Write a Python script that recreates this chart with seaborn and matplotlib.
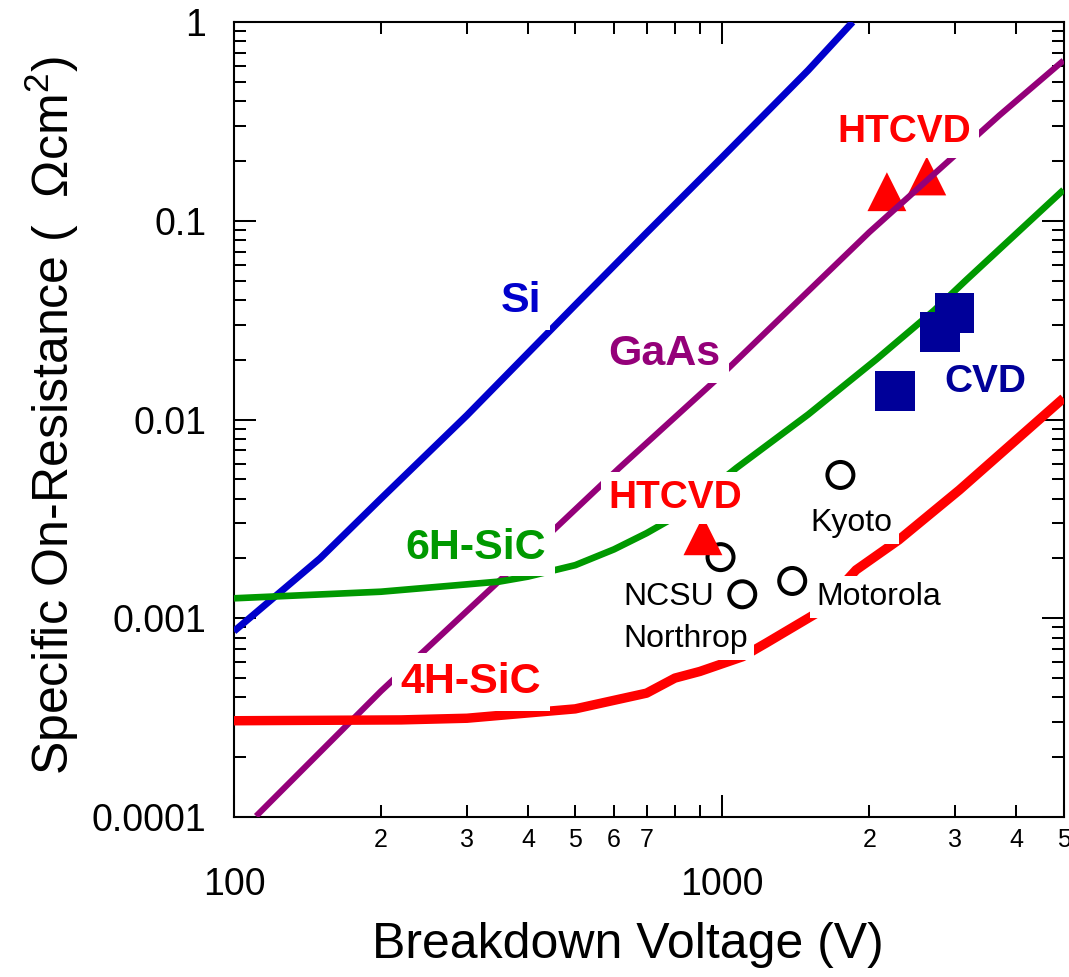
import numpy as np
import pandas as pd
import matplotlib
matplotlib.use('Agg')
import matplotlib.pyplot as plt
import matplotlib.ticker as mticker
import seaborn as sns

# ---------------- data ----------------
si_v = [100, 150, 200, 300, 500, 700, 1000, 1500, 1850]
si_r = [0.00086, 0.0020, 0.0040, 0.0105, 0.0377, 0.087, 0.209, 0.572, 1.0]

gaas_v = [111, 200, 400, 615, 1000, 2000, 3700, 5000]
gaas_r = [1.01e-4, 4.3e-4, 2.1e-3, 5.7e-3, 1.69e-2, 8.75e-2, 0.34, 0.64]

sic6h_v = [100, 200, 350, 400, 500, 600, 700, 800, 1070, 1500, 2070, 2720,
           3160, 5000]
sic6h_r = [0.00126, 0.00136, 0.00153, 0.00162, 0.00185, 0.00222, 0.00268,
           0.00323, 0.00571, 0.0106, 0.0201, 0.0355, 0.0503, 0.143]

sic4h_v = [100, 220, 300, 500, 700, 800, 900, 1100, 1230, 1560, 1880, 2300,
           3060, 5000]
sic4h_r = [0.000305, 0.000308, 0.000314, 0.00035, 0.00042, 0.0005, 0.00054,
           0.00064, 0.00075, 0.00106, 0.00175, 0.00248, 0.00442, 0.0128]

htcvd_v = [913, 2174, 2624]
htcvd_r = [0.0026, 0.140, 0.168]

cvd_v = [2261, 2795, 2988]
cvd_r = [0.0139, 0.0276, 0.0344]

dev_names = ['NCSU', 'Northrop', 'Motorola', 'Kyoto']
dev_v = [992, 1099, 1391, 1746]
dev_r = [0.00203, 0.00132, 0.00154, 0.00526]

y_major = [1e-4, 1e-3, 1e-2, 1e-1, 1]
y_major_labels = ['0.0001', '0.001', '0.01', '0.1', '1']
x_major = [100, 1000]
x_major_labels = ['100', '1000']
x_minor_labelled = [200, 300, 400, 500, 600, 700, 2000, 3000, 4000, 5000]

# ---------------- style ----------------
sns.set_style('ticks')
plt.rcParams['font.family'] = ['Liberation Sans', 'DejaVu Sans']
plt.rcParams['mathtext.fontset'] = 'custom'
plt.rcParams['mathtext.rm'] = 'Liberation Sans'
for k in ['text.color', 'axes.labelcolor', 'xtick.color', 'ytick.color',
          'axes.edgecolor']:
    plt.rcParams[k] = 'black'

C_SI = '#0000CC'
C_GAAS = '#940079'
C_6H = '#009900'
C_4H = '#FF0000'
C_CVD = '#000099'

fig = plt.figure(figsize=(10.69, 9.77), dpi=100)
ax = fig.add_axes([234 / 1069, 1 - 817 / 977, (1063.5 - 234) / 1069, (817 - 22) / 977])

# open circles (device results)
sns.scatterplot(x=dev_v, y=dev_r, marker='o', s=18.7 ** 2, ax=ax,
                zorder=1.5, legend=False)
c = ax.collections[-1]
c.set_facecolor('none')
c.set_edgecolor('black')
c.set_linewidth(2.9)

sns.scatterplot(x=htcvd_v, y=htcvd_r, marker='^', s=28 ** 2, color=C_4H,
                edgecolor='none', ax=ax, zorder=2, legend=False)

for v, r, col, lw in [(si_v, si_r, C_SI, 5.0), (gaas_v, gaas_r, C_GAAS, 4.4),
                      (sic6h_v, sic6h_r, C_6H, 4.8), (sic4h_v, sic4h_r, C_4H, 6.8)]:
    sns.lineplot(x=v, y=r, color=col, lw=lw, sort=False, estimator=None,
                 ax=ax, zorder=3, solid_capstyle='butt')

sns.scatterplot(x=cvd_v, y=cvd_r, marker='s', s=28.5 ** 2, color=C_CVD,
                edgecolor='none', ax=ax, zorder=4, legend=False)

ax.set_xscale('log')
ax.set_yscale('log')
ax.set_xlim(100, 5000)
ax.set_ylim(1e-4, 1)

# ---------------- text labels ----------------
def lab(txt, x, y, col, size, bold=True):
    ax.text(x, y, txt, color=col, fontsize=size,
            fontweight='bold' if bold else 'normal', ha='center', va='baseline',
            zorder=6,
            bbox=dict(boxstyle='square,pad=0.2', fc='white', ec='none'))

lab('Si', 387, 0.0347, C_SI, 31)
lab('GaAs', 762, 0.0188, C_GAAS, 31)
lab('HTCVD', 2361, 0.249, C_4H, 28)
lab('HTCVD', 803, 0.00359, C_4H, 28)
lab('6H-SiC', 313, 0.00199, C_6H, 31)
lab('4H-SiC', 305.5, 0.000421, C_4H, 31)
lab('CVD', 3458, 0.01375, C_CVD, 28)
lab('Kyoto', 1839, 0.00275, 'black', 23, bold=False)
lab('NCSU', 777, 0.001166, 'black', 23, bold=False)
lab('Motorola', 2088, 0.001166, 'black', 23, bold=False)
lab('Northrop', 841, 0.000717, 'black', 23, bold=False)

# ---------------- axes / ticks ----------------
ax.yaxis.set_major_locator(mticker.FixedLocator(y_major))
ax.yaxis.set_major_formatter(mticker.FixedFormatter(y_major_labels))
ax.yaxis.set_minor_locator(mticker.LogLocator(base=10, subs=np.arange(2, 10), numticks=20))
ax.yaxis.set_minor_formatter(mticker.NullFormatter())

ax.xaxis.set_major_locator(mticker.FixedLocator(x_major))
ax.xaxis.set_major_formatter(mticker.FixedFormatter(x_major_labels))
ax.xaxis.set_minor_locator(mticker.LogLocator(base=10, subs=np.arange(2, 10), numticks=20))

def minor_fmt(v, pos):
    for m in x_minor_labelled:
        if abs(v - m) / m < 1e-6:
            return '%d' % round(v / 10 ** np.floor(np.log10(v) + 1e-9))
    return ''
ax.xaxis.set_minor_formatter(mticker.FuncFormatter(minor_fmt))

ax.tick_params(which='both', direction='in', top=True, right=True,
               width=1.45, color='black')
ax.tick_params(which='major', length=15.8)
ax.tick_params(which='minor', length=8.6)
ax.tick_params(axis='y', which='major', labelsize=27, pad=20)
ax.tick_params(axis='x', which='major', labelsize=27, pad=36)
ax.tick_params(axis='x', which='minor', labelsize=18, pad=8)

for s in ax.spines.values():
    s.set_linewidth(1.5)
    s.set_color('black')

ax.set_xlabel('Breakdown Voltage (V)', fontsize=36)
ax.set_ylabel('Specific On-Resistance (  \u03a9cm$\\mathregular{^2}$)', fontsize=36)
ax.xaxis.set_label_coords(0.475, -0.161)
ax.xaxis.label.set_va('center')
ax.yaxis.set_label_coords(-0.185, 0.505)

fig.savefig('out.png', dpi=100)
